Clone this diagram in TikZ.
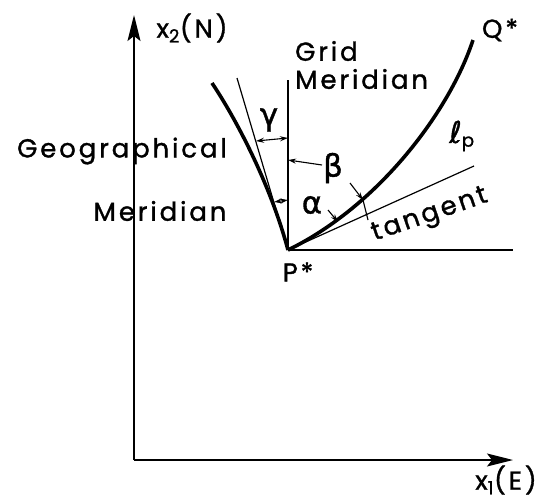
\documentclass[tikz,border=0pt]{standalone}
\usepackage{fontspec}
\setmainfont{Poppins}[LetterSpace=11,FakeBold=1.2]
\newfontfamily\greekfont{DejaVu Sans}[FakeBold=1.2]
\usetikzlibrary{arrows.meta,positioning,calc}

\begin{document}
\begin{tikzpicture}[
    x=1pt, y=-1pt,
    font=\fontsize{26}{28}\selectfont,
    axis/.style={line width=1.6pt, -{Stealth[length=26pt,width=13pt,inset=5pt]}},
    thinline/.style={line width=1.2pt},
    thickcurve/.style={line width=3.6pt},
    dimarrow/.style={line width=1.1pt, {Stealth[length=8pt,width=5pt]}-{Stealth[length=8pt,width=5pt]}},
    leader/.style={line width=1.1pt, -{Stealth[length=8pt,width=5pt]}},
    lbl/.style={inner sep=0pt},
    greek/.style={inner sep=0pt, font=\fontsize{31}{31}\greekfont}
]
    \useasboundingbox (0,0) rectangle (552,501);

    % Ejes
    \coordinate (O) at (134,460);
    \coordinate (ytip) at (134,15);
    \coordinate (xtip) at (513,460);
    \draw[axis] (O) -- (ytip);
    \draw[axis] (O) -- (xtip);
    \node[lbl] (xtwo) at (192,28) {x\textsubscript{2}(N)};
    \node[lbl] (xone) at (506,480) {x\textsubscript{1}(E)};

    % Punto P* y lineas
    \coordinate (P) at (288,250);
    \coordinate (gridtop) at (288,80);
    \coordinate (thintop) at (237,78);
    \coordinate (tanend) at (474,166);
    \coordinate (horizend) at (513,250);
    \coordinate (geotop) at (212,83);
    \coordinate (Q) at (473,40);

    \draw[thinline] (P) -- (gridtop);
    \draw[thinline] (P) -- (thintop);
    \draw[thinline] (P) -- (tanend);
    \draw[thinline] (P) -- (horizend);
    \draw[thickcurve] (geotop) .. controls (240,125) and (272,190) .. (P);
    \draw[thickcurve] (P) .. controls (380,205) and (450,110) .. (Q);

    \node[lbl] (pstar) at (298,272) {P*};
    \node[lbl] (qstar) at (500,30) {Q*};
    \node[lbl] (ellp) at (462,136) {{\fontsize{30}{30}\greekfont ℓ}\textsubscript{p}};
    \node[lbl, rotate=19] (tang) at (430,216) {tangent};
    \node[lbl, anchor=west, align=left] (grid) at (295,65) {Grid\\Meridian};
    \node[lbl] (geo) at (122,151) {Geographical};
    \node[lbl] (geomer) at (160,211) {Meridian};

    % Angulos
    \coordinate (gamL) at (256,141);
    \coordinate (gamR) at (288,138);
    \draw[dimarrow] (gamL) -- (gamR);
    \node[greek] (gamma) at (269,120) {γ};

    \coordinate (betaA) at (322,165);
    \coordinate (betaB) at (288,160);
    \coordinate (betaC) at (350,183);
    \coordinate (betaD) at (363,200);
    \coordinate (betaE) at (368,220);
    \node[greek] (beta) at (333,168) {β};
    \draw[leader] (betaA) -- (betaB);
    \draw[leader] (betaC) -- (betaD);
    \draw[line width=1.1pt] (betaD) -- (betaE);

    \coordinate (alfL) at (274,202);
    \coordinate (alfR) at (288,200);
    \coordinate (alfA) at (328,210);
    \coordinate (alfB) at (338,222);
    \draw[dimarrow] (alfL) -- (alfR);
    \node[greek] (alpha) at (312,205) {α};
    \draw[leader] (alfA) -- (alfB);
\end{tikzpicture}
\end{document}
